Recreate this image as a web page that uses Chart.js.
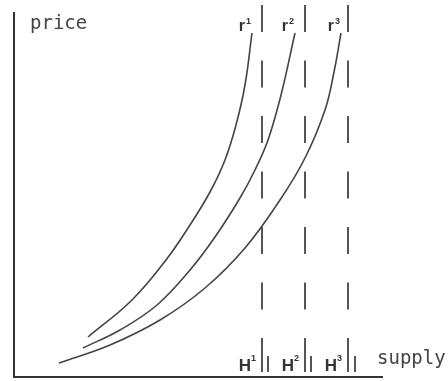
<!DOCTYPE html>
<html>
<head>
<meta charset="utf-8">
<script src="https://cdn.jsdelivr.net/npm/chart.js@4"></script>
<style>
    body { margin: 0; background: #fff; }
    canvas { display: block; }
</style>
</head>
<body>
<canvas id="supplyChart" width="448" height="381"></canvas>
<script>
// curve points (supply, price)
const r1Supply = [74, 118, 152, 176, 196, 211, 222, 231, 238];
const r1Price  = [40, 77, 117, 152, 185, 217, 252, 292, 344];
const r2Supply = [69, 106, 143, 176, 201, 226, 241, 254, 267, 281];
const r2Price  = [29, 47, 72, 107, 140, 179, 207, 237, 282, 344];
const r3Supply = [45, 96, 146, 191, 231, 266, 291, 311, 320, 327];
const r3Price  = [14, 32, 57, 89, 129, 177, 219, 267, 305, 344];

// capacity limits H1..H3 (dashed) and the short second bar next to each
const limitSupply = [248, 291, 334];
const barSupply   = [254, 297, 341];
const limitTop = 372;
const limitBottom = 5;
const solidFrom = 39;
const barFrom = 21;

const curveNames = ['r', 'r', 'r'];
const limitNames = ['H', 'H', 'H'];
const indexNames = ['1', '2', '3'];
const xAxisName = 'supply';
const yAxisName = 'price';

const xMax = 368;
const yMax = 364;

const toPoints = (xs, ys) => xs.map((v, i) => ({x: v, y: ys[i]}));
const curves = [toPoints(r1Supply, r1Price), toPoints(r2Supply, r2Price), toPoints(r3Supply, r3Price)];

const datasets = [];
curves.forEach((pts, i) => {
    datasets.push({
        label: curveNames[i] + indexNames[i],
        data: pts,
        showLine: true,
        borderColor: '#444',
        borderWidth: 1.6,
        pointRadius: 0,
        tension: 0.4,
        clip: false
    });
});
limitSupply.forEach((s, i) => {
    datasets.push({
        label: limitNames[i] + indexNames[i],
        data: [{x: s, y: limitTop}, {x: s, y: solidFrom}],
        showLine: true,
        borderColor: '#555',
        borderWidth: 2,
        borderDash: [27, 28.5],
        pointRadius: 0,
        clip: false
    });
    datasets.push({
        label: limitNames[i] + indexNames[i] + ' solid',
        data: [{x: s, y: solidFrom}, {x: s, y: limitBottom}],
        showLine: true,
        borderColor: '#555',
        borderWidth: 2,
        pointRadius: 0,
        clip: false
    });
    datasets.push({
        label: limitNames[i] + indexNames[i] + ' bar',
        data: [{x: barSupply[i], y: barFrom}, {x: barSupply[i], y: limitBottom}],
        showLine: true,
        borderColor: '#555',
        borderWidth: 2,
        pointRadius: 0,
        clip: false
    });
});

// draws axis names and the r/H labels with their indices
const labelPlugin = {
    id: 'labels',
    afterDatasetsDraw(chart) {
        const {ctx, chartArea, scales: {x, y}} = chart;
        ctx.save();
        ctx.fillStyle = '#444';
        ctx.textBaseline = 'alphabetic';
        ctx.textAlign = 'left';
        ctx.font = '19px "DejaVu Sans Mono"';
        ctx.fillText(yAxisName, chartArea.left + 16, chartArea.top + 16);
        ctx.fillText(xAxisName, chartArea.right - 5, chartArea.bottom - 13);

        ctx.fillStyle = '#333';
        ctx.textAlign = 'right';
        curves.forEach((pts, i) => {
            const top = pts[pts.length - 1];
            const px = x.getPixelForValue(top.x) - 1;
            const py = y.getPixelForValue(top.y) - 2;
            ctx.font = 'bold 9px "Liberation Sans"';
            ctx.fillText(indexNames[i], px, py - 7);
            const w = ctx.measureText(indexNames[i]).width;
            ctx.font = 'bold 16px "Liberation Sans"';
            ctx.fillText(curveNames[i], px - w - 1, py);
        });
        limitSupply.forEach((s, i) => {
            const px = x.getPixelForValue(s) - 6;
            const py = chartArea.bottom - 6;
            ctx.font = 'bold 9px "Liberation Sans"';
            ctx.fillText(indexNames[i], px, py - 10);
            const w = ctx.measureText(indexNames[i]).width;
            ctx.font = 'bold 17px "Liberation Sans"';
            ctx.fillText(limitNames[i], px - w, py);
        });
        ctx.restore();
    }
};

const axisOpts = (max) => ({
    min: 0, max: max,
    ticks: { display: false },
    grid: { display: false, drawTicks: false, tickLength: 0 },
    border: { display: true, color: '#333', width: 2 }
});

const ctx = document.getElementById('supplyChart').getContext('2d');
const chart = new Chart(ctx, {
    type: 'scatter',
    data: { datasets: datasets },
    options: {
        responsive: false,
        animation: false,
        layout: { padding: { left: 14, right: 66, top: 13, bottom: 4 } },
        plugins: { legend: { display: false }, tooltip: { enabled: false } },
        scales: {
            x: axisOpts(xMax),
            y: axisOpts(yMax)
        }
    },
    plugins: [labelPlugin]
});
</script>
</body>
</html>
